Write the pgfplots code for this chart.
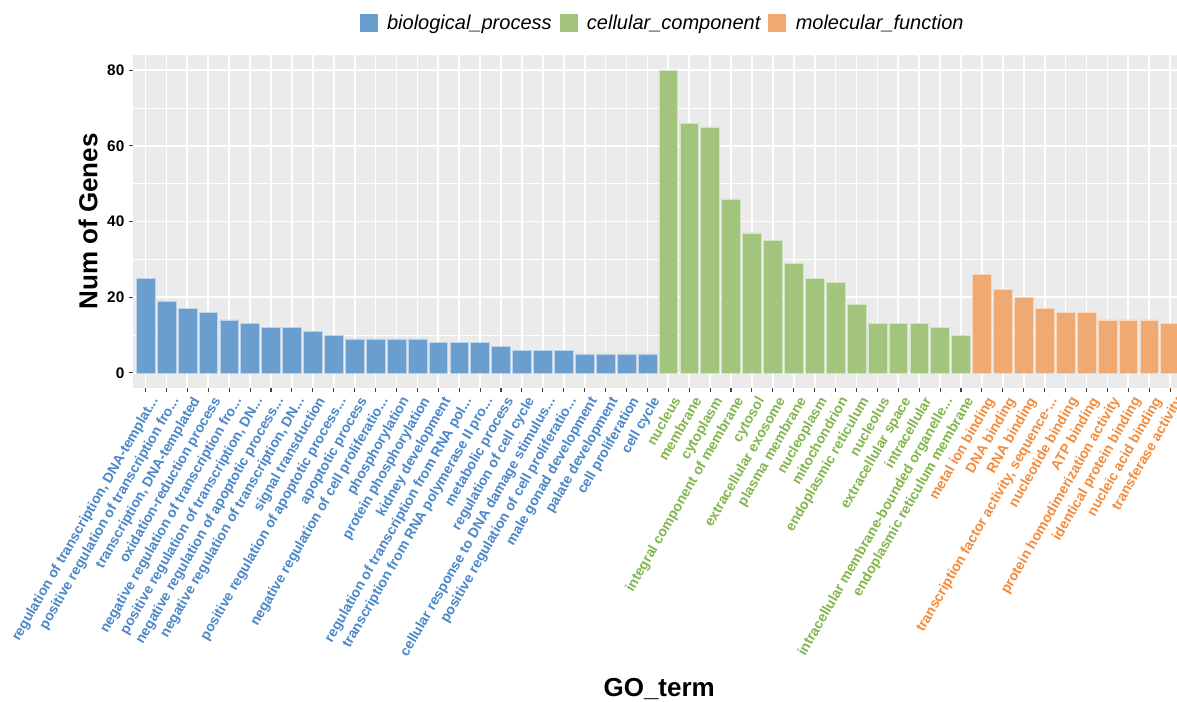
\documentclass[border=0pt]{standalone}
\usepackage{fontspec}
\setmainfont{Liberation Sans}
\usepackage{pgfplots}
\pgfplotsset{compat=1.18}

% bar fills and tick-label colours of the three GO categories
\definecolor{bpbar}{HTML}{6A9ECE}
\definecolor{ccbar}{HTML}{A2C47D}
\definecolor{mfbar}{HTML}{EFAA74}
\definecolor{bplab}{HTML}{4A86C8}
\definecolor{cclab}{HTML}{82B54B}
\definecolor{mflab}{HTML}{F28B3C}
\definecolor{panel}{HTML}{EBEBEB}

\newcommand{\B}[1]{\textcolor{bplab}{#1}}
\newcommand{\C}[1]{\textcolor{cclab}{#1}}
\newcommand{\M}[1]{\textcolor{mflab}{#1}}

\pgfplotsset{
  gobar/.style={ybar, bar width=0.9, bar shift=0pt, draw=white!55!#1, fill=#1, line width=0.4pt,
    legend image code/.code={\fill[##1, draw=none] (0pt,-6.75pt) rectangle (13.5pt,6.75pt);}},
}

\begin{document}
\begin{tikzpicture}
\begin{axis}[
  scale only axis, width=783pt, height=249.75pt,
  xmin=-0.6, xmax=49.33, ymin=-4, ymax=84,
  axis background/.style={fill=panel},
  axis line style={draw=none},
  xtick={0,...,49}, ytick={0,20,40,60,80}, minor ytick={10,30,50,70},
  xtick pos=lower, ytick pos=left,
  tick align=outside, major tick length=3pt, minor tick length=0pt,
  tick style={draw=black!75, line width=0.8pt},
  xmajorgrids, ymajorgrids, yminorgrids,
  major grid style={white, line width=1.3pt},
  minor grid style={white, line width=0.65pt},
  /pgf/number format/assume math mode=true,
  yticklabel style={font=\bfseries\fontsize{11.5}{13}\selectfont, text=black},
  xticklabel style={xshift=2.5pt, yshift=-1pt, rotate=60, anchor=north east, inner sep=1pt,
    font=\bfseries\fontsize{10.5}{12}\selectfont},
  xticklabels={
    \B{regulation of transcription, DNA-templat...},
    \B{positive regulation of transcription fro...},
    \B{transcription, DNA-templated},
    \B{oxidation-reduction process},
    \B{negative regulation of transcription fro...},
    \B{positive regulation of transcription, DN...},
    \B{negative regulation of apoptotic process...},
    \B{negative regulation of transcription, DN...},
    \B{signal transduction},
    \B{positive regulation of apoptotic process...},
    \B{apoptotic process},
    \B{negative regulation of cell proliferatio...},
    \B{phosphorylation},
    \B{protein phosphorylation},
    \B{kidney development},
    \B{regulation of transcription from RNA pol...},
    \B{transcription from RNA polymerase II pro...},
    \B{metabolic process},
    \B{regulation of cell cycle},
    \B{cellular response to DNA damage stimulus...},
    \B{positive regulation of cell proliferatio...},
    \B{male gonad development},
    \B{palate development},
    \B{cell proliferation},
    \B{cell cycle},
    \C{nucleus},
    \C{membrane},
    \C{cytoplasm},
    \C{integral component of membrane},
    \C{cytosol},
    \C{extracellular exosome},
    \C{plasma membrane},
    \C{nucleoplasm},
    \C{mitochondrion},
    \C{endoplasmic reticulum},
    \C{nucleolus},
    \C{extracellular space},
    \C{intracellular},
    \C{intracellular membrane-bounded organelle...},
    \C{endoplasmic reticulum membrane},
    \M{metal ion binding},
    \M{DNA binding},
    \M{RNA binding},
    \M{transcription factor activity, sequence-...},
    \M{nucleotide binding},
    \M{ATP binding},
    \M{protein homodimerization activity},
    \M{identical protein binding},
    \M{nucleic acid binding},
    \M{transferase activity},
  },
  xlabel={GO\_term}, ylabel={Num of Genes},
  xlabel style={at={(axis description cs:0.504,-0.904)}, anchor=center,
    font=\bfseries\fontsize{19.5}{22}\selectfont},
  ylabel style={at={(axis description cs:-0.0431,0.5)}, anchor=center,
    font=\bfseries\fontsize{19.5}{22}\selectfont},
  legend columns=3,
  legend style={at={(axis description cs:0.5077,1.096)}, anchor=center,
    draw=none, fill=none, font=\itshape\fontsize{15}{18}\selectfont,
    /tikz/every odd column/.append style={column sep=5pt},
    /tikz/every even column/.append style={column sep=4pt}},
]
\addplot[gobar=bpbar] coordinates {
  (0,25) (1,19) (2,17) (3,16) (4,14) (5,13) (6,12) (7,12) (8,11) (9,10)
  (10,9) (11,9) (12,9) (13,9) (14,8) (15,8) (16,8) (17,7) (18,6) (19,6)
  (20,6) (21,5) (22,5) (23,5) (24,5)};
\addlegendentry{biological\_process}
\addplot[gobar=ccbar] coordinates {
  (25,80) (26,66) (27,65) (28,46) (29,37) (30,35) (31,29) (32,25) (33,24)
  (34,18) (35,13) (36,13) (37,13) (38,12) (39,10)};
\addlegendentry{cellular\_component}
\addplot[gobar=mfbar] coordinates {
  (40,26) (41,22) (42,20) (43,17) (44,16) (45,16) (46,14) (47,14) (48,14)
  (49,13)};
\addlegendentry{molecular\_function}
\end{axis}
\pgfresetboundingbox
\useasboundingbox (-99.75pt,-234.75pt) rectangle (783pt,291pt);
\end{tikzpicture}
\end{document}
